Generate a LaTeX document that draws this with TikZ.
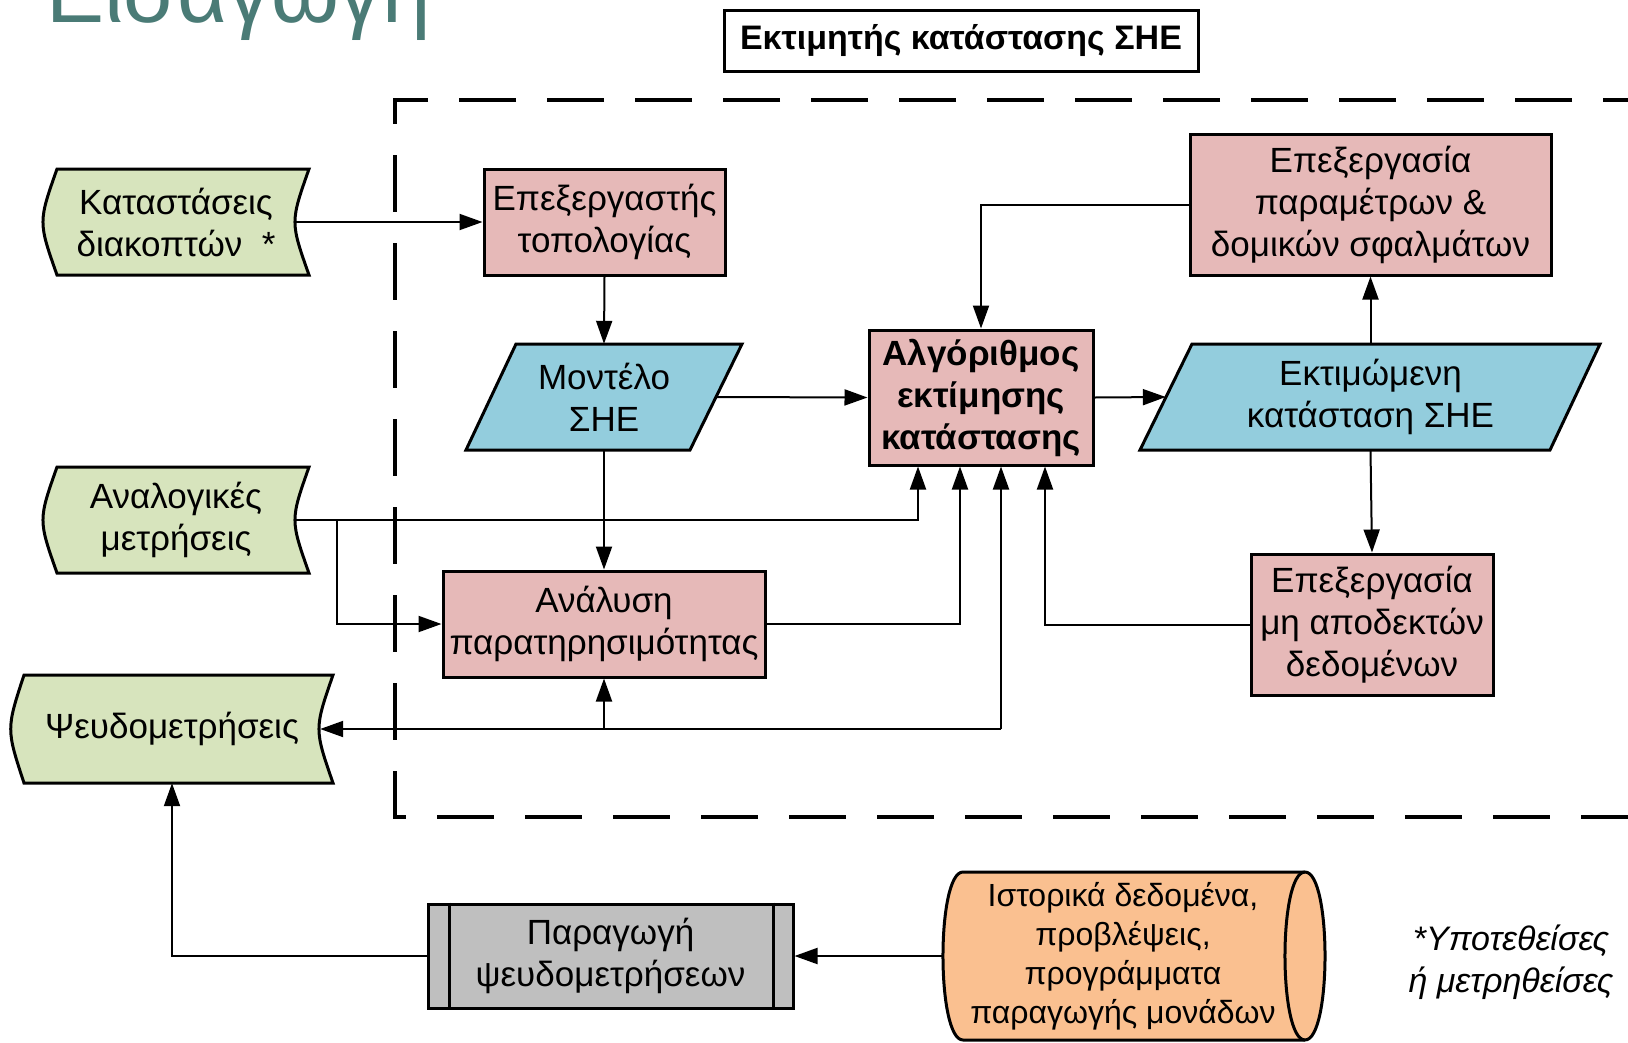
\documentclass[tikz,border=0pt]{standalone}
\usepackage{fontspec}
\setmainfont{Liberation Sans}
\usetikzlibrary{arrows.meta,calc}
\definecolor{gC}{HTML}{D7E4BD}
\definecolor{pC}{HTML}{E6B9B8}
\definecolor{bC}{HTML}{93CDDD}
\definecolor{oC}{HTML}{FAC090}
\definecolor{grC}{HTML}{BFBFBF}
\definecolor{tC}{HTML}{4A7B76}
\newcommand\myfs{\fontsize{35}{42}\selectfont}
\begin{document}
\begin{tikzpicture}[x=1pt,y=-1pt,
 txt/.style={font=\myfs, align=center, inner sep=0pt},
 pbox/.style={txt, draw=black, line width=3pt, fill=pC},
 shp/.style={draw=black, line width=3pt, line join=miter},
 arr/.style={line width=2pt, -{Triangle[length=23pt,width=16pt]}},
 ln/.style={line width=2pt},
 frm/.style={line width=4pt, dash pattern=on 57pt off 31pt}
]
\useasboundingbox (0,0) rectangle (1628,1042);
\clip (0,0) rectangle (1628,1042);

% heading
\node[anchor=base west, inner sep=0pt, font=\fontsize{87}{92}\selectfont, text=tC] (ttl) at (46,22) {Εισαγωγή};

% dashed frame
\draw[frm] (1660,100) -- (395,100) -- (395,817) -- (1660,817);

% title box
\node[txt, draw=black, line width=3pt, fill=white, minimum width=474pt, minimum height=61pt,
      font=\fontsize{34}{40}\selectfont\bfseries] (ttlbox) at (961,40.5) {Εκτιμητής κατάστασης ΣΗΕ};

% stored data shapes
\path[shp, fill=gC] (57,169) -- (309,169) .. controls (290.3,222) .. (309,275) -- (57,275) .. controls (38.3,222) .. (57,169) -- cycle;
\path[shp, fill=gC] (57,467) -- (309,467) .. controls (290.3,520) .. (309,573) -- (57,573) .. controls (38.3,520) .. (57,467) -- cycle;
\path[shp, fill=gC] (24,675) -- (333,675) .. controls (314.3,729) .. (333,783) -- (24,783) .. controls (6.3,729) .. (24,675) -- cycle;
\node[txt, minimum width=238pt, minimum height=106pt] (ks) at (176,222) {Καταστάσεις\\διακοπτών\ \ *};
\node[txt, minimum width=238pt, minimum height=106pt] (an) at (176,520) {Αναλογικές\\μετρήσεις};
\node[txt, minimum width=296pt, minimum height=108pt] (ps) at (172,729) {Ψευδομετρήσεις};

% parallelograms
\path[shp, fill=bC] (516,344) -- (742,344) -- (690,450) -- (466,450) -- cycle;
\node[txt, minimum width=224pt, minimum height=106pt] (mod) at (604,397) {Μοντέλο\\ΣΗΕ};
\path[shp, fill=bC] (1192,344) -- (1600,344) -- (1550,450) -- (1140,450) -- cycle;
\node[txt, minimum width=409pt, minimum height=106pt] (est) at (1370.5,397) {Εκτιμώμενη\\κατάσταση ΣΗΕ};

% process boxes
\node[pbox, minimum width=241pt, minimum height=106pt] (tp) at (604.5,222) {Επεξεργαστής\\τοπολογίας};
\node[pbox, minimum width=224pt, minimum height=135pt, font=\myfs\bfseries] (alg) at (981,397.5) {Αλγόριθμος\\εκτίμησης\\κατάστασης};
\node[pbox, minimum width=361pt, minimum height=141pt] (par) at (1370.5,204.5) {Επεξεργασία\\παραμέτρων \&\\δομικών σφαλμάτων};
\node[pbox, minimum width=322pt, minimum height=106pt] (obs) at (604,624) {Ανάλυση\\παρατηρησιμότητας};
\node[pbox, minimum width=242pt, minimum height=141pt] (bad) at (1372,624.5) {Επεξεργασία\\μη αποδεκτών\\δεδομένων};

% predefined process
\node[txt, draw=black, line width=3pt, fill=grC, minimum width=365pt, minimum height=104pt] (gen) at (610.5,956) {Παραγωγή\\ψευδομετρήσεων};
\draw[line width=3pt] ([xshift=23pt]gen.north west) -- ([xshift=23pt]gen.south west);
\draw[line width=3pt] ([xshift=-21pt]gen.north east) -- ([xshift=-21pt]gen.south east);

% cylinder
\path[shp, fill=oC] (963,872) -- (1305,872) .. controls (1331.7,872) and (1331.7,1040) .. (1305,1040) -- (963,1040) .. controls (936.3,1040) and (936.3,872) .. (963,872) -- cycle;
\draw[shp] (1305,872) .. controls (1278.3,872) and (1278.3,1040) .. (1305,1040);
\node[txt, minimum width=360pt, minimum height=168pt, font=\fontsize{32}{39}\selectfont] (cyl) at (1123,956) {Ιστορικά δεδομένα,\\προβλέψεις,\\προγράμματα\\παραγωγής μονάδων};

% footnote
\node[txt, font=\fontsize{34}{42}\selectfont\itshape] (fn) at (1511,962) {*Υποτεθείσες\\ή μετρηθείσες};

% input points on the estimator
\coordinate (a1) at ([xshift=-63pt]alg.south);
\coordinate (a2) at ([xshift=-21pt]alg.south);
\coordinate (a3) at ([xshift=20pt]alg.south);
\coordinate (a4) at ([xshift=64pt]alg.south);
\coordinate (br) at ([xshift=42pt]an.east);

% connectors
\draw[arr] (ks.east) -- (tp.west);
\draw[arr] (tp.south) -- (mod.north);
\draw[arr] (mod.east) -- (alg.west);
\draw[arr] (mod.south) -- (obs.north);
\draw[arr] (par.west) -| (alg.north);
\draw[arr] (alg.east) -- (est.west);
\draw[arr] (est.north) -- (par.south);
\draw[arr] (est.south) -- (bad.north);
\draw[arr] (bad.west) -| (a4);
\draw[arr] (an.east) -| (a1);
\draw[arr] (br) |- (obs.west);
\draw[arr] (obs.east) -| (a2);
\draw[arr] (a3 |- ps.east) -- (a3);
\draw[arr] (a3 |- ps.east) -- (ps.east);
\draw[arr] (ps.east -| obs.south) -- (obs.south);
\draw[arr] (gen.west) -| (ps.south);
\draw[arr] (cyl.west) -- (gen.east);
\end{tikzpicture}
\end{document}
